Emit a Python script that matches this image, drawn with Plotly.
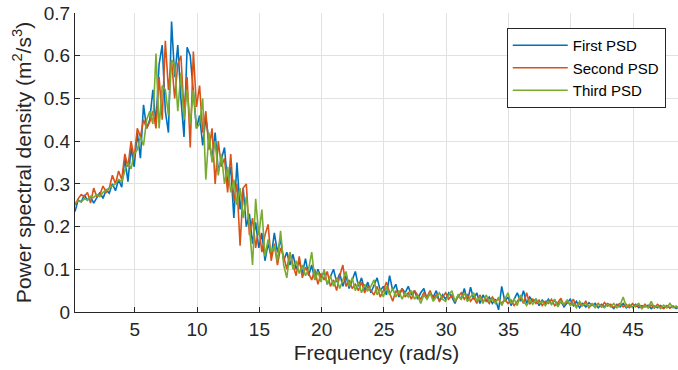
import numpy as np
import plotly.graph_objects as go

# Frequency grid (rad/s), step 0.25
freq = [round(0.2 + 0.25 * i, 2) for i in range(196)]

first_psd = [
    0.235, 0.262, 0.258, 0.274, 0.262, 0.270, 0.255, 0.268,
    0.280, 0.266, 0.286, 0.278, 0.300, 0.284, 0.310, 0.292,
    0.360, 0.305, 0.385, 0.340, 0.420, 0.360, 0.485, 0.430,
    0.450, 0.520, 0.440, 0.580, 0.625, 0.470, 0.420, 0.680,
    0.550, 0.625, 0.500, 0.410, 0.620, 0.600, 0.520, 0.430,
    0.460, 0.390, 0.455, 0.400, 0.360, 0.420, 0.330, 0.360,
    0.385, 0.300, 0.340, 0.220, 0.350, 0.240, 0.290, 0.200,
    0.230, 0.160, 0.210, 0.150, 0.185, 0.120, 0.160, 0.130,
    0.185, 0.140, 0.170, 0.120, 0.140, 0.110, 0.135, 0.100,
    0.120, 0.090, 0.125, 0.085, 0.110, 0.075, 0.100, 0.080,
    0.095, 0.065, 0.085, 0.100, 0.070, 0.090, 0.060, 0.085,
    0.055, 0.075, 0.095, 0.060, 0.080, 0.050, 0.070, 0.045,
    0.065, 0.080, 0.050, 0.060, 0.040, 0.085, 0.050, 0.065,
    0.035, 0.055, 0.045, 0.060, 0.040, 0.050, 0.030, 0.045,
    0.055, 0.030, 0.045, 0.035, 0.050, 0.025, 0.040, 0.030,
    0.045, 0.035, 0.020, 0.040, 0.030, 0.055, 0.025, 0.058,
    0.030, 0.045, 0.020, 0.040, 0.025, 0.035, 0.020, 0.030,
    0.005, 0.060, 0.025, 0.035, 0.015, 0.030, 0.045, 0.025,
    0.050, 0.020, 0.035, 0.025, 0.030, 0.015, 0.028, 0.020,
    0.030, 0.018, 0.028, 0.015, 0.025, 0.012, 0.020, 0.030,
    0.015, 0.025, 0.010, 0.020, 0.012, 0.022, 0.015, 0.020,
    0.010, 0.018, 0.012, 0.020, 0.015, 0.008, 0.018, 0.012,
    0.020, 0.010, 0.016, 0.012, 0.018, 0.010, 0.015, 0.012,
    0.016, 0.008, 0.014, 0.010, 0.015, 0.009, 0.014, 0.010,
    0.013, 0.008, 0.012, 0.010,
]

second_psd = [
    0.250, 0.265, 0.275, 0.270, 0.280, 0.255, 0.290, 0.270,
    0.275, 0.295, 0.280, 0.290, 0.320, 0.300, 0.330, 0.310,
    0.370, 0.340, 0.400, 0.360, 0.430, 0.410, 0.450, 0.430,
    0.445, 0.470, 0.430, 0.550, 0.450, 0.635, 0.520, 0.590,
    0.500, 0.580, 0.600, 0.470, 0.550, 0.385, 0.610, 0.480,
    0.530, 0.420, 0.470, 0.380, 0.430, 0.300, 0.400, 0.340,
    0.360, 0.280, 0.370, 0.260, 0.300, 0.155, 0.290, 0.300,
    0.180, 0.220, 0.150, 0.200, 0.140, 0.180, 0.205, 0.120,
    0.160, 0.110, 0.150, 0.130, 0.100, 0.140, 0.110, 0.085,
    0.130, 0.080, 0.105, 0.090, 0.075, 0.100, 0.065, 0.090,
    0.075, 0.095, 0.060, 0.075, 0.050, 0.085, 0.110, 0.060,
    0.075, 0.055, 0.065, 0.050, 0.070, 0.045, 0.060, 0.050,
    0.040, 0.060, 0.035, 0.050, 0.070, 0.045, 0.025, 0.050,
    0.040, 0.055, 0.035, 0.045, 0.030, 0.050, 0.040, 0.030,
    0.045, 0.035, 0.050, 0.030, 0.040, 0.025, 0.035, 0.045,
    0.030, 0.040, 0.025, 0.035, 0.045, 0.030, 0.040, 0.025,
    0.035, 0.020, 0.040, 0.025, 0.030, 0.020, 0.035, 0.025,
    0.030, 0.020, 0.030, 0.020, 0.028, 0.015, 0.025, 0.035,
    0.020, 0.045, 0.018, 0.030, 0.020, 0.028, 0.015, 0.025,
    0.020, 0.030, 0.015, 0.022, 0.032, 0.015, 0.025, 0.018,
    0.030, 0.012, 0.020, 0.015, 0.025, 0.010, 0.018, 0.012,
    0.020, 0.012, 0.022, 0.014, 0.018, 0.010, 0.016, 0.020,
    0.012, 0.018, 0.010, 0.020, 0.012, 0.016, 0.008, 0.018,
    0.010, 0.016, 0.009, 0.018, 0.012, 0.008, 0.015, 0.009,
    0.014, 0.010, 0.013, 0.008,
]

third_psd = [
    0.255, 0.260, 0.258, 0.265, 0.262, 0.270, 0.268, 0.275,
    0.270, 0.280, 0.285, 0.290, 0.295, 0.300, 0.310, 0.305,
    0.330, 0.350, 0.335, 0.370, 0.380, 0.410, 0.390, 0.450,
    0.470, 0.440, 0.605, 0.430, 0.530, 0.520, 0.460, 0.590,
    0.580, 0.470, 0.560, 0.450, 0.520, 0.440, 0.520, 0.430,
    0.440, 0.500, 0.310, 0.420, 0.350, 0.400, 0.320, 0.370,
    0.300, 0.340, 0.280, 0.310, 0.250, 0.290, 0.220, 0.270,
    0.200, 0.110, 0.265, 0.180, 0.240, 0.130, 0.170, 0.140,
    0.155, 0.120, 0.190, 0.110, 0.080, 0.140, 0.100, 0.120,
    0.090, 0.110, 0.085, 0.100, 0.140, 0.075, 0.095, 0.070,
    0.100, 0.065, 0.085, 0.060, 0.080, 0.055, 0.075, 0.095,
    0.060, 0.080, 0.050, 0.070, 0.045, 0.065, 0.050, 0.060,
    0.075, 0.040, 0.055, 0.035, 0.060, 0.040, 0.055, 0.035,
    0.050, 0.030, 0.045, 0.035, 0.050, 0.030, 0.040, 0.020,
    0.040, 0.030, 0.045, 0.025, 0.035, 0.045, 0.030, 0.025,
    0.040, 0.050, 0.025, 0.040, 0.030, 0.045, 0.025, 0.035,
    0.045, 0.025, 0.035, 0.020, 0.040, 0.025, 0.030, 0.020,
    0.035, 0.015, 0.030, 0.045, 0.020, 0.030, 0.015, 0.040,
    0.025, 0.015, 0.028, 0.018, 0.030, 0.020, 0.025, 0.015,
    0.025, 0.018, 0.030, 0.012, 0.025, 0.018, 0.028, 0.015,
    0.020, 0.010, 0.025, 0.015, 0.020, 0.012, 0.020, 0.010,
    0.018, 0.014, 0.010, 0.018, 0.012, 0.020, 0.010, 0.016,
    0.035, 0.012, 0.018, 0.010, 0.015, 0.020, 0.008, 0.015,
    0.010, 0.025, 0.010, 0.014, 0.008, 0.016, 0.010, 0.020,
    0.010, 0.014, 0.008, 0.012,
]

series_names = ["First PSD", "Second PSD", "Third PSD"]
series_colors = ["#0072BD", "#D95319", "#77AC30"]
x_ticks = [5, 10, 15, 20, 25, 30, 35, 40, 45]
y_ticks = [0, 0.1, 0.2, 0.3, 0.4, 0.5, 0.6, 0.7]
y_tick_labels = ["0", "0.1", "0.2", "0.3", "0.4", "0.5", "0.6", "0.7"]

FONT = "Liberation Sans, Arial, Helvetica, sans-serif"
DARK = "#262626"

fig = go.Figure()
for name, vals, col in zip(series_names, [first_psd, second_psd, third_psd], series_colors):
    fig.add_trace(go.Scatter(x=freq, y=vals, mode="lines", name=name,
                             line=dict(color=col, width=1.6)))

fig.update_layout(
    width=678, height=370,
    margin=dict(l=75, r=0, t=13, b=58, autoexpand=False),
    paper_bgcolor="white", plot_bgcolor="white",
    font=dict(family=FONT, color=DARK, size=18),
    showlegend=True,
    legend=dict(x=0.716, y=0.95, xanchor="left", yanchor="top",
                bgcolor="white", bordercolor=DARK, borderwidth=1,
                font=dict(size=15, color="#000000"),
                tracegroupgap=0, itemwidth=55),
)
fig.update_xaxes(
    range=[0.2, 48.6], tickvals=x_ticks, ticks="inside", ticklen=5,
    tickcolor=DARK, showline=True, linecolor=DARK, linewidth=1,
    showgrid=True, gridcolor="#e1e1e1", gridwidth=1, zeroline=False,
    automargin=False,
    tickfont=dict(size=19, color=DARK),
    title=dict(text="Frequency (rad/s)", font=dict(size=21, color=DARK), standoff=6),
)
fig.update_yaxes(
    range=[0, 0.7], tickvals=y_ticks, ticktext=y_tick_labels, ticks="inside", ticklen=5,
    tickcolor=DARK, showline=True, linecolor=DARK, linewidth=1,
    showgrid=True, gridcolor="#e1e1e1", gridwidth=1, zeroline=False,
    automargin=False,
    tickfont=dict(size=19, color=DARK),
    title=dict(text="Power spectral density (m<sup>2</sup>/s<sup>3</sup>)",
               font=dict(size=21, color=DARK), standoff=6),
)

fig.write_html("out.html",
               config={"displayModeBar": False},
               post_script="document.body.style.margin='0px';document.body.style.overflow='hidden';")
